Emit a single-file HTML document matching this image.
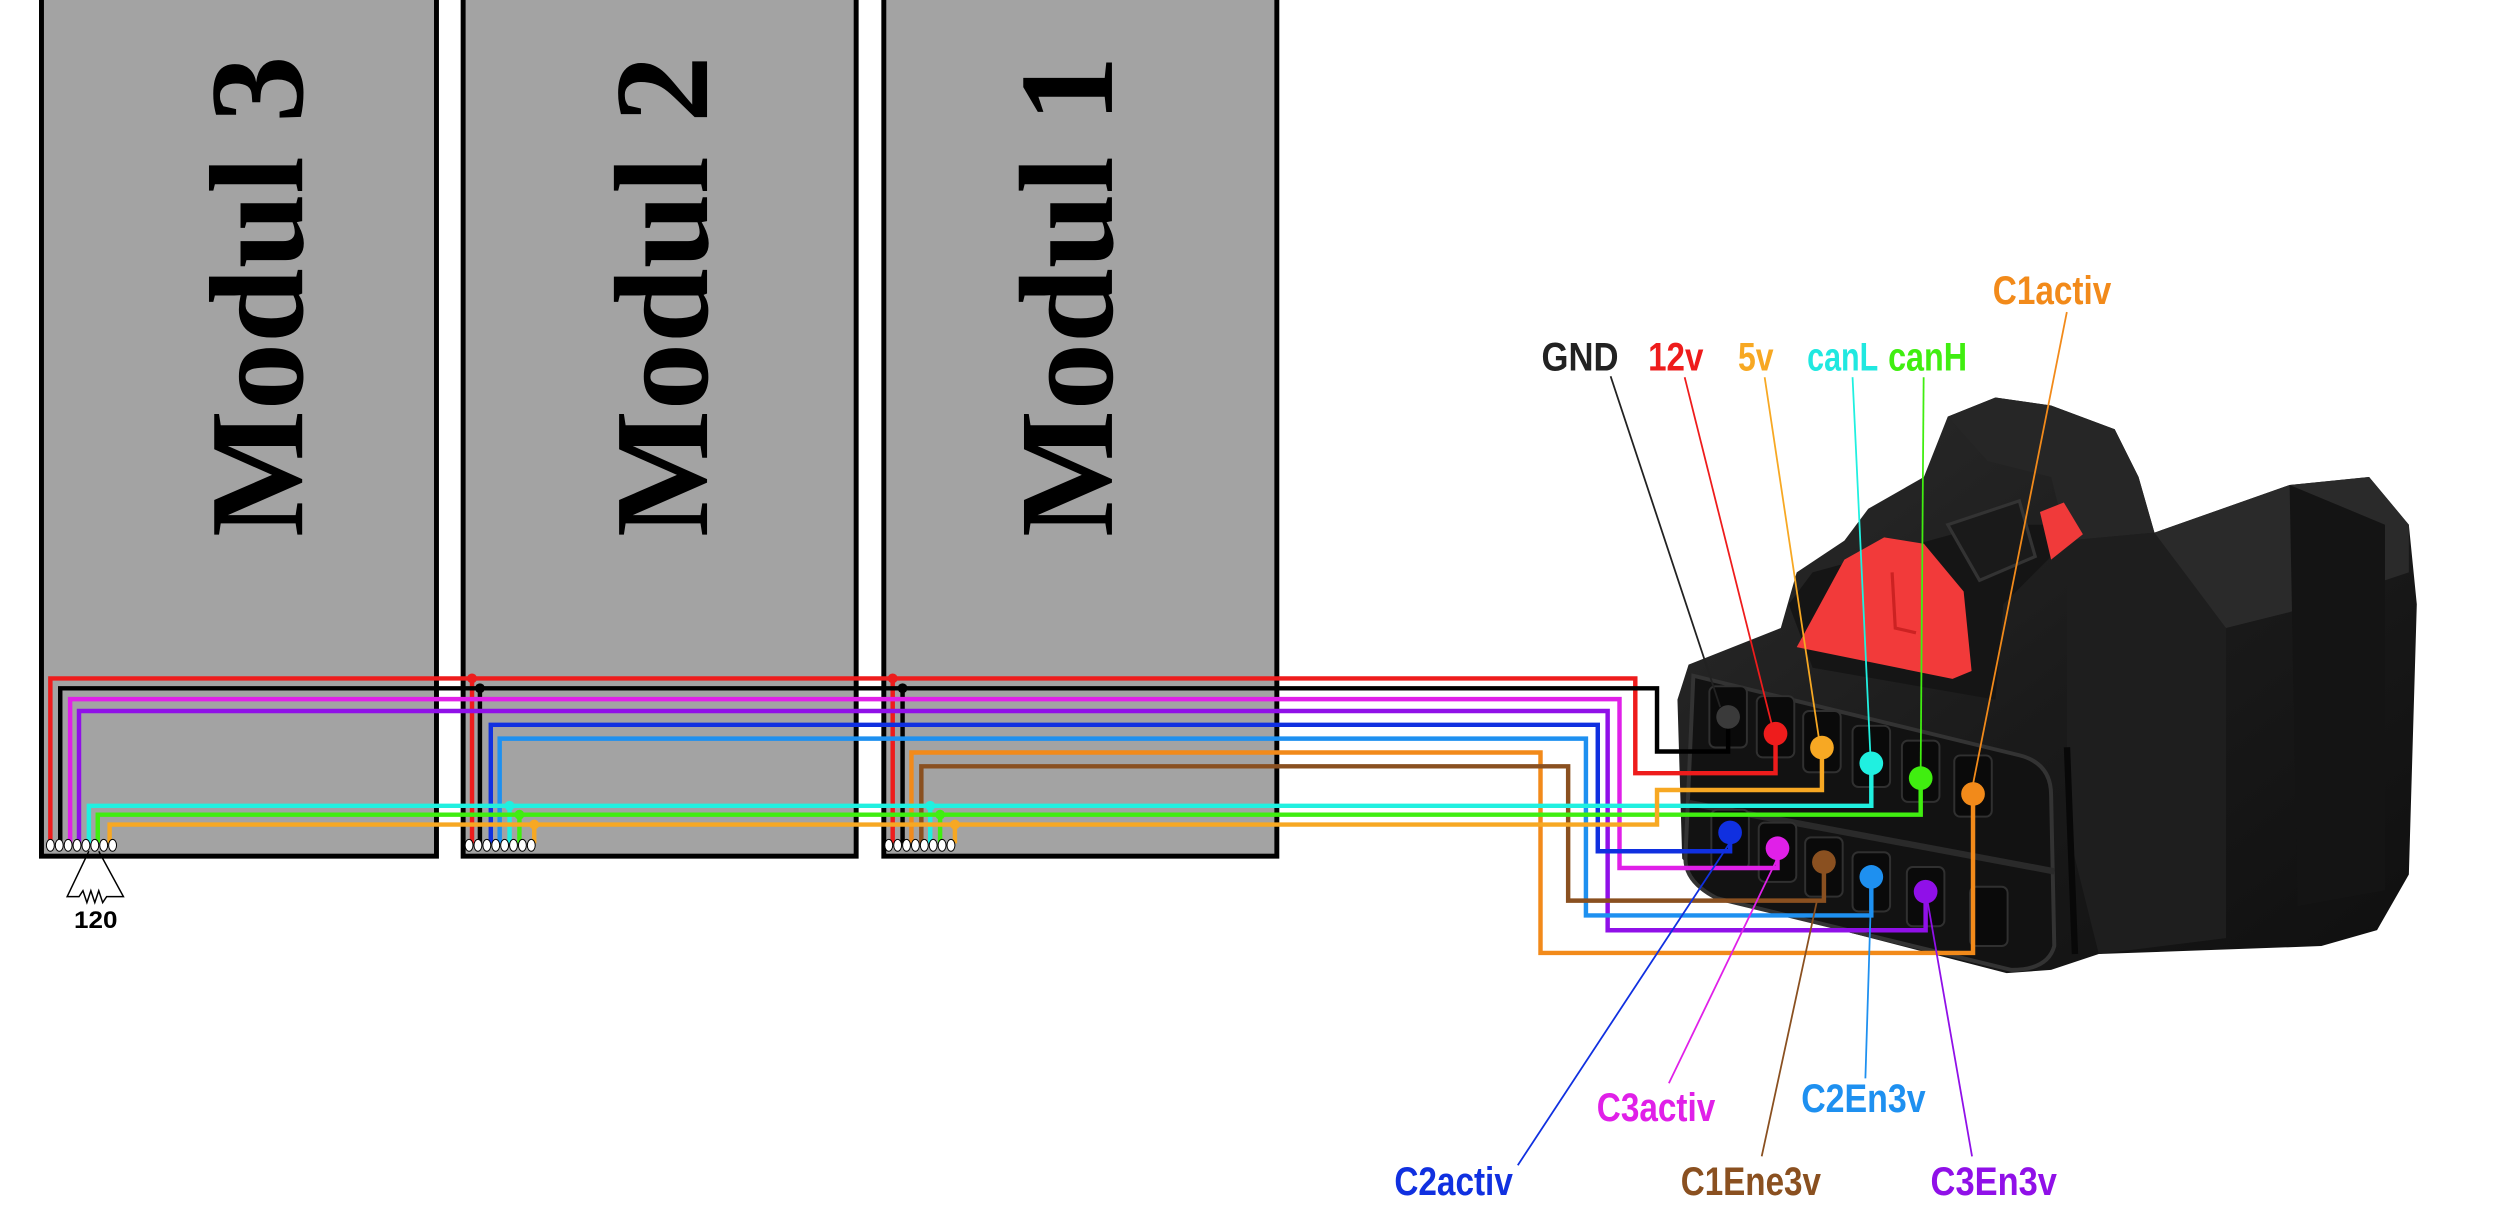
<!DOCTYPE html>
<html><head><meta charset="utf-8"><style>
html,body{margin:0;padding:0;background:#fff;}
svg{display:block;}
.lbl{font-family:"Liberation Sans",sans-serif;font-weight:bold;font-size:40px;}
.mod{font-family:"Liberation Serif",serif;font-weight:bold;font-size:136px;fill:#000;}
</style></head><body>
<svg width="2494" height="1212" viewBox="0 0 2494 1212" xmlns="http://www.w3.org/2000/svg">
<defs>
<linearGradient id="bd" x1="0" y1="0" x2="1" y2="1">
<stop offset="0" stop-color="#2c2c2c"/><stop offset="0.5" stop-color="#1b1b1b"/><stop offset="1" stop-color="#0f0f0f"/>
</linearGradient>
</defs>
<g transform="scale(0.9875)">
<rect x="42" y="-10" width="400" height="877" fill="#a3a3a3" stroke="#000" stroke-width="5"/>
<rect x="469" y="-10" width="398" height="877" fill="#a3a3a3" stroke="#000" stroke-width="5"/>
<rect x="895" y="-10" width="398" height="877" fill="#a3a3a3" stroke="#000" stroke-width="5"/>
<text class="mod" transform="translate(306,300) rotate(-90)" text-anchor="middle">Modul 3</text>
<text class="mod" transform="translate(716,300) rotate(-90)" text-anchor="middle">Modul 2</text>
<text class="mod" transform="translate(1126,300) rotate(-90)" text-anchor="middle">Modul 1</text>
</g>

<!-- connector body in display coords -->
<g transform="scale(1.59)">
<path d="M1062,418 L1120,395 L1130,360 L1160,340 L1175,320 L1210,300 L1225,262 L1255,250 L1290,255 L1330,270 L1345,300 L1355,335 L1440,305 L1490,300 L1515,330 L1520,380 L1515,550 L1495,585 L1460,595 L1320,600 L1290,610 L1262,612 L1080,565 L1058,540 L1055,440 Z" fill="url(#bd)"/>
<path d="M1225,262 L1255,250 L1290,255 L1330,270 L1345,300 L1355,335 L1300,340 L1290,300 L1250,290 Z" fill="#262626"/>
<path d="M1355,335 L1440,305 L1490,300 L1515,330 L1515,360 L1440,385 L1400,395 L1370,370 Z" fill="#2a2a2a"/>
<path d="M1440,305 L1500,330 L1500,560 L1445,570 Z" fill="#141414"/>
<path d="M1300,340 L1355,335 L1400,395 L1400,590 L1320,600 L1300,520 Z" fill="#1e1e1e"/>
<path d="M1125,380 L1140,360 L1250,330 L1290,330 L1295,345 L1260,380 L1255,440 L1140,420 Z" fill="#151515"/>
<path d="M1135,398 L1160,352 L1185,338 L1210,342 L1235,372 L1240,422 L1228,427 L1130,407 Z" fill="#f23a3a"/>
<path d="M1190,360 L1192,395 L1205,398" fill="none" stroke="#c22" stroke-width="2"/>
<path d="M1283,322 L1298,316 L1310,336 L1290,352 Z" fill="#f03a3a"/>
<path d="M1225,330 L1270,315 L1280,350 L1245,365 Z" fill="#1a1a1a" stroke="#333" stroke-width="2"/>
<path d="M1065,425 L1270,475 Q1290,480 1290,500 L1292,595 Q1288,610 1265,610 L1080,565 Q1060,555 1060,540 Z" fill="#121212" stroke="#333" stroke-width="2.5"/>
<path d="M1062,505 L1292,548" stroke="#2a2a2a" stroke-width="4"/>
<path d="M1300,470 L1305,600" stroke="#080808" stroke-width="4"/>
</g>

<g transform="scale(0.9875)">
<!-- pin cavities -->
<g fill="#0a0a0a" stroke="#303030" stroke-width="2">
<rect x="1731" y="695" width="38" height="62" rx="6"/>
<rect x="1779" y="705" width="38" height="62" rx="6"/>
<rect x="1826" y="720" width="38" height="62" rx="6"/>
<rect x="1876" y="735" width="38" height="62" rx="6"/>
<rect x="1926" y="750" width="38" height="62" rx="6"/>
<rect x="1979" y="765" width="38" height="62" rx="6"/>
<rect x="1733" y="820" width="38" height="60" rx="6"/>
<rect x="1781" y="833" width="38" height="60" rx="6"/>
<rect x="1828" y="848" width="38" height="60" rx="6"/>
<rect x="1876" y="863" width="38" height="60" rx="6"/>
<rect x="1931" y="878" width="38" height="60" rx="6"/>
<rect x="1995" y="898" width="38" height="60" rx="6"/>
</g>

<!-- wires -->
<g fill="none" stroke-width="4.5" stroke-linejoin="miter">
<path d="M51,854 L51,687 L1656,687 L1656,783 L1798,783 L1798,743" stroke="#ee1c1c"/>
<path d="M478,854 L478,687 M904,854 L904,687" stroke="#ee1c1c"/>
<path d="M61,854 L61,697 L1678,697 L1678,761 L1750,761 L1750,726" stroke="#000"/>
<path d="M486,854 L486,697 M914,854 L914,697" stroke="#000"/>
<path d="M71,854 L71,708 L1640,708 L1640,879 L1800,879 L1800,859" stroke="#e020e8"/>
<path d="M80,854 L80,720 L1628,720 L1628,942 L1950,942 L1950,903" stroke="#9010e8"/>
<path d="M497,854 L497,734 L1618,734 L1618,862 L1752,862 L1752,843" stroke="#1030e0"/>
<path d="M506,854 L506,748 L1606,748 L1606,927 L1895,927 L1895,888" stroke="#1e90f0"/>
<path d="M923,854 L923,762 L1560,762 L1560,965 L1998,965 L1998,804" stroke="#f28a1a"/>
<path d="M933,854 L933,776 L1588,776 L1588,912 L1847,912 L1847,873" stroke="#8a5020"/>
<path d="M90,854 L90,816 L1895,816 L1895,773" stroke="#20f0e0"/>
<path d="M516,854 L516,816 M942,854 L942,816" stroke="#20f0e0"/>
<path d="M99,854 L99,825 L1945,825 L1945,788" stroke="#40ee10"/>
<path d="M526,854 L526,825 M952,854 L952,825" stroke="#40ee10"/>
<path d="M111,854 L111,835 L1678,835 L1678,800 L1845,800 L1845,757" stroke="#f7a823"/>
<path d="M541,854 L541,835 M967,854 L967,835" stroke="#f7a823"/>
</g>
<g>
<circle cx="478" cy="687" r="5" fill="#ee1c1c"/><circle cx="486" cy="697" r="5" fill="#000"/>
<circle cx="516" cy="816" r="5" fill="#20f0e0"/><circle cx="526" cy="825" r="5" fill="#40ee10"/><circle cx="541" cy="835" r="5" fill="#f7a823"/>
<circle cx="904" cy="687" r="5" fill="#ee1c1c"/><circle cx="914" cy="697" r="5" fill="#000"/>
<circle cx="942" cy="816" r="5" fill="#20f0e0"/><circle cx="952" cy="825" r="5" fill="#40ee10"/><circle cx="967" cy="835" r="5" fill="#f7a823"/>
</g>
<g fill="#fff" stroke="#000" stroke-width="1">
<ellipse cx="51" cy="856" rx="4" ry="6"/><ellipse cx="60" cy="856" rx="4" ry="6"/><ellipse cx="69" cy="856" rx="4" ry="6"/><ellipse cx="78" cy="856" rx="4" ry="6"/><ellipse cx="87" cy="856" rx="4" ry="6"/><ellipse cx="96" cy="856" rx="4" ry="6"/><ellipse cx="105" cy="856" rx="4" ry="6"/><ellipse cx="114" cy="856" rx="4" ry="6"/>
<ellipse cx="475" cy="856" rx="4" ry="6"/><ellipse cx="484" cy="856" rx="4" ry="6"/><ellipse cx="493" cy="856" rx="4" ry="6"/><ellipse cx="502" cy="856" rx="4" ry="6"/><ellipse cx="511" cy="856" rx="4" ry="6"/><ellipse cx="520" cy="856" rx="4" ry="6"/><ellipse cx="529" cy="856" rx="4" ry="6"/><ellipse cx="538" cy="856" rx="4" ry="6"/>
<ellipse cx="900" cy="856" rx="4" ry="6"/><ellipse cx="909" cy="856" rx="4" ry="6"/><ellipse cx="918" cy="856" rx="4" ry="6"/><ellipse cx="927" cy="856" rx="4" ry="6"/><ellipse cx="936" cy="856" rx="4" ry="6"/><ellipse cx="945" cy="856" rx="4" ry="6"/><ellipse cx="954" cy="856" rx="4" ry="6"/><ellipse cx="963" cy="856" rx="4" ry="6"/>
</g>
<path d="M90,862 L68,908 L80,908 L84,902 L88,914 L92,902 L96,914 L100,902 L104,914 L108,908 L125,908 L100,862" fill="none" stroke="#000" stroke-width="1.5"/>
<text x="97" y="940" text-anchor="middle" style="font-family:'Liberation Sans',sans-serif;font-weight:bold;font-size:24px;" textLength="44" lengthAdjust="spacingAndGlyphs">120</text>

<g>
<circle cx="1750" cy="726" r="12" fill="#3a3a3a"/>
<circle cx="1798" cy="743" r="12" fill="#ee1c1c"/>
<circle cx="1845" cy="757" r="12" fill="#f7a823"/>
<circle cx="1895" cy="773" r="12" fill="#20f0e0"/>
<circle cx="1945" cy="788" r="12" fill="#40ee10"/>
<circle cx="1998" cy="804" r="12" fill="#f28a1a"/>
<circle cx="1752" cy="843" r="12" fill="#1030e0"/>
<circle cx="1800" cy="859" r="12" fill="#e020e8"/>
<circle cx="1847" cy="873" r="12" fill="#8a5020"/>
<circle cx="1895" cy="888" r="12" fill="#1e90f0"/>
<circle cx="1950" cy="903" r="12" fill="#9010e8"/>
</g>

<g stroke-width="1.8">
<line x1="1631" y1="381" x2="1742" y2="716" stroke="#222"/>
<line x1="1706" y1="382" x2="1794" y2="733" stroke="#ee1c1c"/>
<line x1="1787" y1="382" x2="1842" y2="748" stroke="#f7a823"/>
<line x1="1876" y1="382" x2="1894" y2="763" stroke="#20f0e0"/>
<line x1="1948" y1="382" x2="1945" y2="778" stroke="#40ee10"/>
<line x1="2093" y1="316" x2="1998" y2="794" stroke="#f28a1a"/>
<line x1="1752" y1="853" x2="1537" y2="1180" stroke="#1030e0"/>
<line x1="1800" y1="869" x2="1690" y2="1097" stroke="#e020e8"/>
<line x1="1840" y1="912" x2="1784" y2="1171" stroke="#8a5020"/>
<line x1="1895" y1="898" x2="1889" y2="1092" stroke="#1e90f0"/>
<line x1="1952" y1="913" x2="1997" y2="1171" stroke="#9010e8"/>
</g>

<g class="lbl" text-anchor="middle" lengthAdjust="spacingAndGlyphs">
<text x="1600" y="375" fill="#222" textLength="78" lengthAdjust="spacingAndGlyphs">GND</text>
<text x="1697" y="375" fill="#ee1c1c" textLength="56" lengthAdjust="spacingAndGlyphs">12v</text>
<text x="1778" y="375" fill="#f7a823" textLength="36" lengthAdjust="spacingAndGlyphs">5v</text>
<text x="1866" y="375" fill="#20e8e0" textLength="72" lengthAdjust="spacingAndGlyphs">canL</text>
<text x="1952" y="375" fill="#40ee10" textLength="80" lengthAdjust="spacingAndGlyphs">canH</text>
<text x="2078" y="308" fill="#f28a1a" textLength="120" lengthAdjust="spacingAndGlyphs">C1activ</text>
<text x="1677" y="1135" fill="#e020e8" textLength="120" lengthAdjust="spacingAndGlyphs">C3activ</text>
<text x="1887" y="1126" fill="#1e90f0" textLength="126" lengthAdjust="spacingAndGlyphs">C2En3v</text>
<text x="1472" y="1210" fill="#1030e0" textLength="120" lengthAdjust="spacingAndGlyphs">C2activ</text>
<text x="1773" y="1210" fill="#8a5020" textLength="142" lengthAdjust="spacingAndGlyphs">C1Ene3v</text>
<text x="2019" y="1210" fill="#9010e8" textLength="128" lengthAdjust="spacingAndGlyphs">C3En3v</text>
</g>
</g>
</svg>
</body></html>
